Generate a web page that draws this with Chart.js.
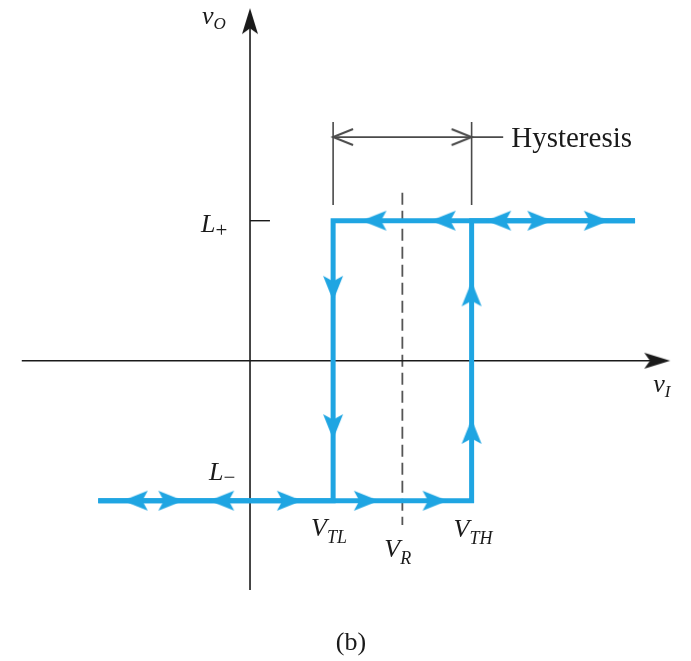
<!DOCTYPE html>
<html>
<head>
<meta charset="utf-8">
<script src="https://cdn.jsdelivr.net/npm/chart.js@4"></script>
<style>
  html, body { margin: 0; padding: 0; background: #fff; }
  #wrap { width: 691px; height: 661px; position: relative; }
</style>
</head>
<body>
<div id="wrap"><canvas id="loop"></canvas></div>
<script>
// comparator transfer characteristic, arbitrary units
const VTL = 1.5;
const VR = 2.75;
const VTH = 4.0;
const Lplus = 3.5;
const Lminus = -3.5;

// ends of the two saturated branches
const vIleft = -2.74;
const vIright = 6.95;

// arrowheads along the loop (centre positions and direction in degrees)
const topArrowsX = [2.24, 3.49, 4.49, 5.23, 6.25];
const topArrowsDir = [180, 180, 180, 0, 0];
const bottomArrowsX = [-2.07, -1.43, -0.51, 0.71, 2.10, 3.34];
const bottomArrowsDir = [180, 0, 180, 0, 0, 0];
const fallArrowsY = [1.81, -1.65];   // on vI = VTL, going down
const riseArrowsY = [1.67, -1.77];   // on vI = VTH, going up

// axes
const xAxisFrom = -4.12, xAxisTo = 7.35;
const yAxisFrom = -5.73, yAxisTo = 8.49;
const tickLen = 0.36;

// VR reference line and hysteresis bracket
const vrTop = 4.2, vrBottom = -4.11;
const hystY = 5.59;
const hystTop = 5.97, hystBottom = 3.89;
const hystLeader = 4.57;

const BLUE = '#1fa5e2';
const INK = '#1a1a1a';
const GREY = '#4a4a4a';
const SERIF = "'Liberation Serif', 'DejaVu Serif', serif";

// arrowhead sprite pointing right; centred, or with the tip at the centre
function arrowHead(len, half, color, tipAtCenter, open) {
  const c = document.createElement('canvas');
  c.width = tipAtCenter ? len * 2 + 4 : len + 4;
  c.height = half * 2 + 4;
  const g = c.getContext('2d');
  const tip = tipAtCenter ? c.width / 2 : c.width - 2;
  const cy = c.height / 2;
  const back = tip - len;
  g.beginPath();
  if (open) {
    g.moveTo(back, cy - half);
    g.lineTo(tip, cy);
    g.lineTo(back, cy + half);
    g.strokeStyle = color;
    g.lineWidth = 2;
    g.stroke();
  } else {
    g.moveTo(tip, cy);
    g.lineTo(back, cy - half);
    g.lineTo(back + len * 0.22, cy);
    g.lineTo(back, cy + half);
    g.closePath();
    g.fillStyle = color;
    g.fill();
  }
  return c;
}

const blueArrow = arrowHead(25, 10, BLUE, false, false);
const axisArrow = arrowHead(26, 8, INK, false, false);
const openArrow = arrowHead(20, 8, GREY, true, true);

const loopArrows = [];
const loopDirs = [];
topArrowsX.forEach((x, i) => { loopArrows.push({ x: x, y: Lplus }); loopDirs.push(topArrowsDir[i]); });
bottomArrowsX.forEach((x, i) => { loopArrows.push({ x: x, y: Lminus }); loopDirs.push(bottomArrowsDir[i]); });
fallArrowsY.forEach(y => { loopArrows.push({ x: VTL, y: y }); loopDirs.push(90); });
riseArrowsY.forEach(y => { loopArrows.push({ x: VTH, y: y }); loopDirs.push(270); });

function seg(data, color, width, order, dash) {
  return {
    data: data, showLine: true, pointRadius: 0, borderColor: color,
    borderWidth: width, borderDash: dash || [], order: order,
    borderCapStyle: 'butt', borderJoinStyle: 'miter', spanGaps: false, clip: false
  };
}

// italic symbol with a subscript
function drawSub(ctx, main, sub, x, y, size, subSize, drop, subItalic) {
  ctx.font = 'italic ' + size + 'px ' + SERIF;
  ctx.fillText(main, x, y);
  const w = ctx.measureText(main).width;
  ctx.font = (subItalic ? 'italic ' : '') + subSize + 'px ' + SERIF;
  ctx.fillText(sub, x + w, y + drop);
}

const labels = {
  id: 'labels',
  afterDatasetsDraw(chart) {
    const ctx = chart.ctx;
    const sx = chart.scales.x, sy = chart.scales.y;
    const px = v => sx.getPixelForValue(v);
    const py = v => sy.getPixelForValue(v);
    ctx.save();
    ctx.fillStyle = INK;
    ctx.textBaseline = 'alphabetic';
    drawSub(ctx, 'v', 'O', px(0) - 48, 24, 26, 17, 5, true);
    drawSub(ctx, 'v', 'I', px(xAxisTo) - 4, py(0) + 31, 26, 17, 5, true);
    drawSub(ctx, 'L', '+', px(0) - 49, py(Lplus) + 11, 26, 21, 5, false);
    drawSub(ctx, 'L', '\u2212', px(0) - 41, py(Lminus) - 21, 26, 21, 4, false);
    drawSub(ctx, 'V', 'TL', px(VTL) - 22, py(Lminus) + 35, 26, 18, 7, true);
    drawSub(ctx, 'V', 'R', px(VR) - 18, py(Lminus) + 56, 26, 18, 7, true);
    drawSub(ctx, 'V', 'TH', px(VTH) - 18, py(Lminus) + 36, 26, 18, 7, true);
    ctx.font = '29px ' + SERIF;
    ctx.fillText('Hysteresis', px(hystLeader) + 8, py(hystY) + 10);
    ctx.textAlign = 'center';
    ctx.font = '26px ' + SERIF;
    ctx.fillText('(b)', 351, 650);
    ctx.restore();
  }
};

new Chart(document.getElementById('loop'), {
  type: 'scatter',
  data: {
    datasets: [
      // loop arrowheads
      {
        data: loopArrows, pointStyle: blueArrow, pointRotation: loopDirs,
        pointRadius: 10, showLine: false, order: 0, clip: false
      },
      // falling branch: L+ back to VTL, down to L-
      seg([{ x: vIright, y: Lplus }, { x: VTL, y: Lplus }, { x: VTL, y: Lminus }, { x: vIleft, y: Lminus }], BLUE, 5, 1),
      // rising branch: L- up to VTH, up to L+
      seg([{ x: vIleft, y: Lminus }, { x: VTH, y: Lminus }, { x: VTH, y: Lplus }, { x: vIright, y: Lplus }], BLUE, 5, 1),
      // axes
      seg([{ x: xAxisFrom, y: 0 }, { x: xAxisTo, y: 0 }], INK, 1.6, 5),
      seg([{ x: 0, y: yAxisFrom }, { x: 0, y: yAxisTo }], INK, 1.6, 5),
      seg([{ x: 0, y: Lplus }, { x: tickLen, y: Lplus }], INK, 1.4, 5),
      {
        data: [{ x: xAxisTo, y: 0 }, { x: 0, y: yAxisTo }], pointStyle: axisArrow,
        pointRotation: [0, 270], pointRadius: 10, showLine: false, order: 4, clip: false
      },
      // VR reference
      seg([{ x: VR, y: vrTop }, { x: VR, y: vrBottom }], '#555', 1.8, 6, [12, 6]),
      // hysteresis bracket
      seg([{ x: VTL, y: hystTop }, { x: VTL, y: hystBottom }, { x: null, y: null },
           { x: VTH, y: hystTop }, { x: VTH, y: hystBottom }], GREY, 1.6, 6),
      seg([{ x: VTL, y: hystY }, { x: hystLeader, y: hystY }], GREY, 1.6, 6),
      {
        data: [{ x: VTL, y: hystY }, { x: VTH, y: hystY }], pointStyle: openArrow,
        pointRotation: [180, 0], pointRadius: 10, showLine: false, order: 6, clip: false
      }
    ]
  },
  options: {
    responsive: true,
    maintainAspectRatio: false,
    animation: false,
    events: [],
    layout: { padding: 0, autoPadding: false },
    plugins: { legend: { display: false }, tooltip: { enabled: false } },
    scales: {
      x: { type: 'linear', min: -4.513, max: 7.96, display: false },
      y: { type: 'linear', min: -7.508, max: 9.018, display: false }
    }
  },
  plugins: [labels]
});
</script>
</body>
</html>
